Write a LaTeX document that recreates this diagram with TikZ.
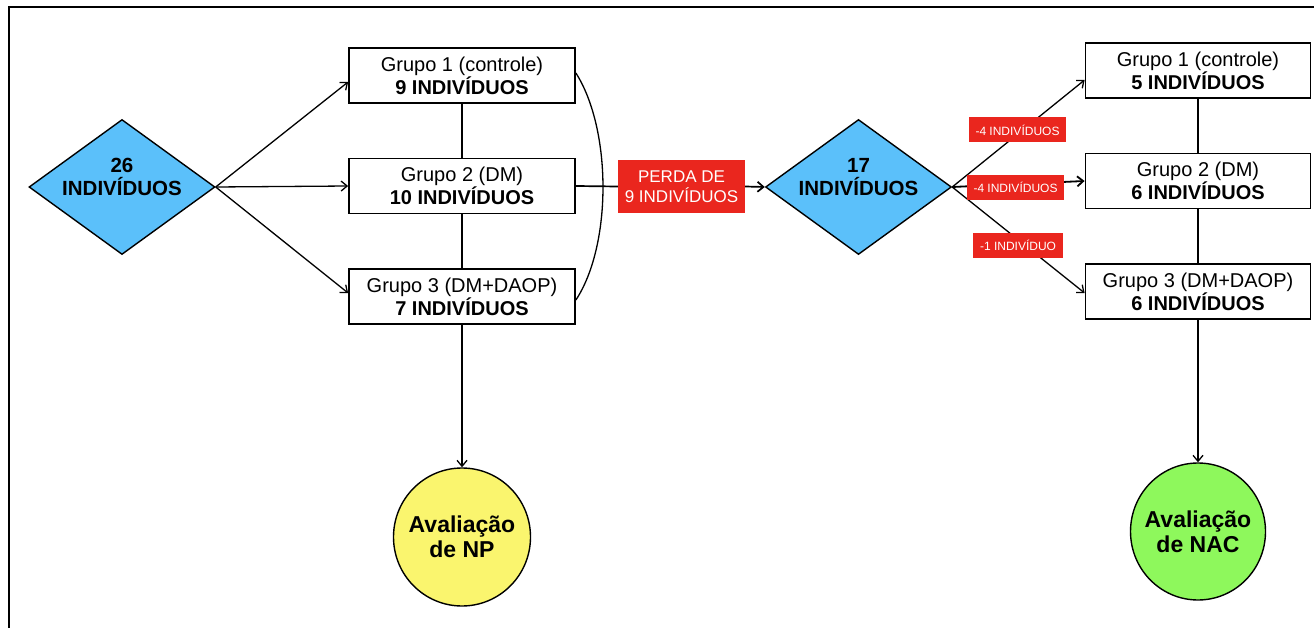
\documentclass[tikz,border=0pt]{standalone}
\usepackage{fontspec}
\setmainfont{Liberation Sans}
\usetikzlibrary{shapes.geometric,arrows.meta,calc}
\definecolor{dblue}{RGB}{91,192,250}
\definecolor{cyel}{RGB}{250,245,110}
\definecolor{cgrn}{RGB}{142,248,92}
\definecolor{cred}{RGB}{234,38,30}
\tikzset{
  grp/.style={draw=black,line width=1.8pt,fill=white,minimum width=226pt,minimum height=55pt,inner sep=0pt,align=center,font=\fontsize{20}{23}\selectfont},
  dia/.style={draw=black,line width=1.4pt,fill=dblue,shape=diamond,minimum width=186pt,minimum height=135pt,inner sep=0pt},
  diatext/.style={align=center,font=\bfseries\fontsize{20.5}{23}\selectfont},
  evalc/.style={draw=black,line width=1.4pt,shape=ellipse,inner sep=0pt},
  evaltext/.style={align=center,font=\bfseries\fontsize{23}{25}\selectfont},
  lossbig/.style={fill=cred,text=white,minimum width=127pt,minimum height=53pt,inner sep=0pt,align=center,font=\fontsize{17}{20}\selectfont},
  losssmall/.style={fill=cred,text=white,inner sep=0pt,minimum height=25pt,font=\fontsize{12}{14}\selectfont},
  conn/.style={line width=1.3pt,draw=black},
  arr/.style={conn,-{Straight Barb[length=6pt,width=10pt]}},
}
\begin{document}
\begin{tikzpicture}[x=1pt,y=-1pt]
\useasboundingbox (0,0) rectangle (1314,628);
% frame
\coordinate (fbl) at (9,628);
\coordinate (ftl) at (9,7);
\coordinate (ftr) at (1314,7);
\draw[line width=2pt] (fbl) -- (ftl) -- (ftr);

% left diamond
\node[dia] (d1) at (122,187) {};
\node[diatext] (d1t) at (122,177) {26\\INDIVÍDUOS};

% left groups
\node[grp] (g1) at (462,75.5) {Grupo 1 (controle)\\\textbf{9 INDIVÍDUOS}};
\node[grp] (g2) at (462,186) {Grupo 2 (DM)\\\textbf{10 INDIVÍDUOS}};
\node[grp] (g3) at (462,296.5) {Grupo 3 (DM+DAOP)\\\textbf{7 INDIVÍDUOS}};

% yellow circle
\node[evalc,fill=cyel,minimum width=137pt,minimum height=138pt] (np) at (462,537) {};
\node[evaltext] (npt) at (462,537) {Avaliação\\de NP};

% loss box
\node[lossbig] (loss) at (681.5,186.5) {PERDA DE\\9 INDIVÍDUOS};

% right diamond
\node[dia] (d2) at (858.5,187) {};
\node[diatext] (d2t) at (858.5,177) {17\\INDIVÍDUOS};

% right groups
\node[grp,minimum width=225pt] (h1) at (1198,70.5) {Grupo 1 (controle)\\\textbf{5 INDIVÍDUOS}};
\node[grp,minimum width=225pt] (h2) at (1198,181) {Grupo 2 (DM)\\\textbf{6 INDIVÍDUOS}};
\node[grp,minimum width=225pt] (h3) at (1198,291.5) {Grupo 3 (DM+DAOP)\\\textbf{6 INDIVÍDUOS}};

% green circle
\node[evalc,fill=cgrn,minimum width=135pt,minimum height=137pt] (nac) at (1198,531.5) {};
\node[evaltext] (nact) at (1198,531.5) {Avaliação\\de NAC};

% left connectors
\draw[arr] (d1.east) -- ($(g1.west)+(0,6.5)$);
\draw[arr] (d1.east) -- (g2.west);
\draw[arr] (d1.east) -- ($(g3.west)+(0,-3.5)$);
\draw[conn] (g1.south) -- (g2.north);
\draw[conn] (g2.south) -- (g3.north);
\draw[arr] (g3.south) -- (np.north);
\draw[conn] ($(g1.east)+(0,-2.5)$) .. controls (612,130) and (612,245) .. ($(g3.east)+(0,3.5)$);

% to loss and diamond 2
\draw[conn,line width=1.7pt] (g2.east) -- (loss.west);
\draw[arr,line width=1.7pt] (loss.east) -- (d2.west);

% right connectors
\draw[arr] (d2.east) -- ($(h1.west)+(0,9.5)$);
\draw[arr,line width=1.8pt] (d2.east) -- (h2.west);
\draw[arr] (d2.east) -- ($(h3.west)+(0,1.5)$);
\draw[conn] (h1.south) -- (h2.north);
\draw[conn] (h2.south) -- (h3.north);
\draw[arr] (h3.south) -- (nac.north);

% small loss labels
\node[losssmall,minimum width=97pt] (l1) at (1017.5,130) {-4 INDIVÍDUOS};
\node[losssmall,minimum width=97pt] (l2) at (1015.5,187.5) {-4 INDIVÍDUOS};
\node[losssmall,minimum width=90pt] (l3) at (1018,245.5) {-1 INDIVÍDUO};
\end{tikzpicture}
\end{document}
